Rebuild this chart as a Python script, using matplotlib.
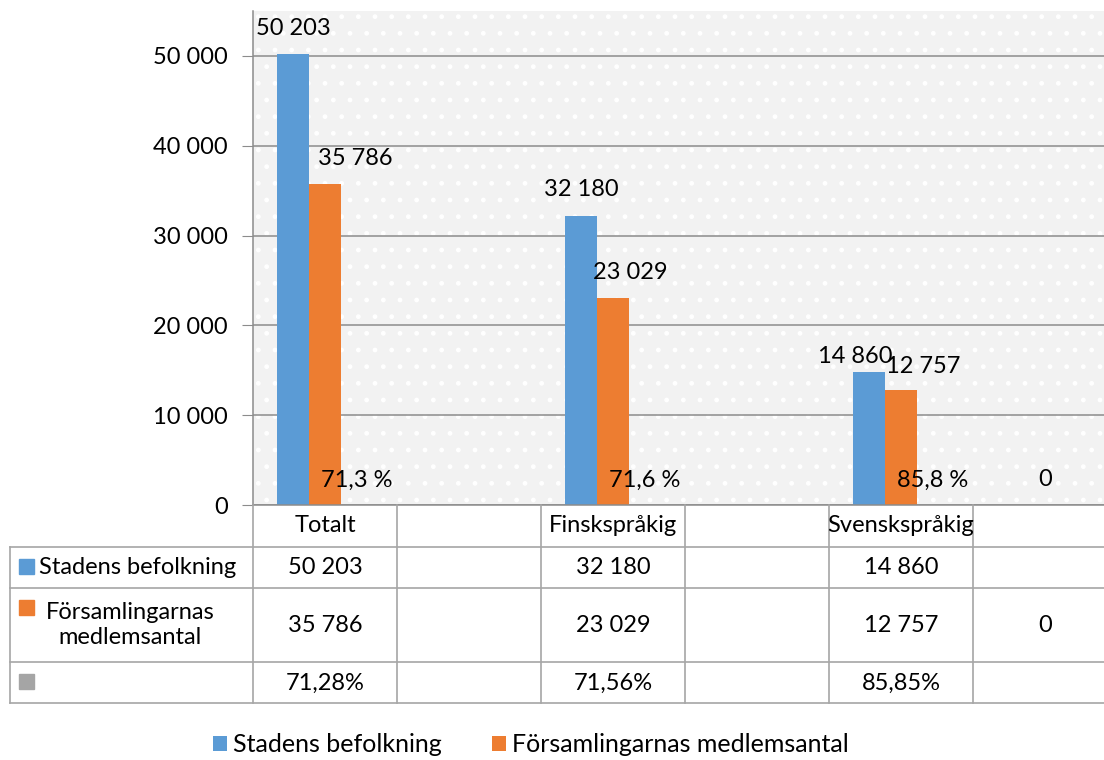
import numpy as np
import matplotlib.pyplot as plt
import matplotlib.transforms as mtransforms
from matplotlib.patches import Rectangle
from matplotlib.ticker import FuncFormatter

plt.rcParams['font.family'] = ['Lato', 'DejaVu Sans']
plt.rcParams['hatch.color'] = 'white'

# data
categories = ['Totalt', '', 'Finskspråkig', '', 'Svenskspråkig', '']
stadens = [50203, np.nan, 32180, np.nan, 14860, np.nan]
forsamling = [35786, np.nan, 23029, np.nan, 12757, 0]
andel = [0.71283, np.nan, 0.71563, np.nan, 0.85848, np.nan]
row_names = ['Stadens befolkning', 'Församlingarnas\nmedlemsantal', '']
legend_names = ['Stadens befolkning', 'Församlingarnas medlemsantal']
yticks = [0, 10000, 20000, 30000, 40000, 50000]

colors = ['#5b9bd5', '#ed7d31', '#a5a5a5']
grid_c = '#8c8c8c'
table_c = '#a6a6a6'
fs = 17

# label shifts (pixels) like the hand-moved Excel labels
blue_dx = [0, 0, 0, 0, -14, 0]
blue_dy = [26, 0, 26, 0, 15, 0]
orange_dx = [30, 0, 17, 0, 22, 0]
orange_dy = [25, 0, 26, 0, 24, 25]


def fmt(v):
    return f'{v:,.0f}'.replace(',', ' ')


W, H = 1104, 760
fig = plt.figure(figsize=(W / 100, H / 100), dpi=100)
ax = fig.add_axes([253 / W, 1 - 505 / H, 864 / W, 494 / H])

x = np.arange(len(categories))
bw = 0.222
b1 = ax.bar(x - bw, stadens, bw, color=colors[0], zorder=2)
b2 = ax.bar(x, forsamling, bw, color=colors[1], zorder=2)
b3 = ax.bar(x + bw, andel, bw, color=colors[2], zorder=2)

ax.set_xlim(-0.5, len(categories) - 0.5)
ax.set_ylim(0, 55000)
ax.set_yticks(yticks)
ax.yaxis.set_major_formatter(FuncFormatter(lambda v, p: fmt(v)))
ax.set_xticks([])
ax.tick_params(axis='y', length=8, color=grid_c, labelsize=fs, pad=10)

ax.set_facecolor('#f2f2f2')
ax.add_patch(Rectangle((0, 0), 1, 1, transform=ax.transAxes, facecolor='none',
                       edgecolor='white', hatch='.', lw=0, zorder=-1))
ax.yaxis.grid(True, color=grid_c, lw=1.1)
ax.set_axisbelow(True)
for s in ['top', 'right']:
    ax.spines[s].set_visible(False)
for s in ['left', 'bottom']:
    ax.spines[s].set_color(grid_c)
    ax.spines[s].set_linewidth(1.1)

# data labels
for i in range(len(categories)):
    if not np.isnan(stadens[i]):
        ax.annotate(fmt(stadens[i]), (x[i] - bw, stadens[i]), xytext=(blue_dx[i], blue_dy[i]),
                    textcoords='offset pixels', ha='center', va='center', fontsize=fs)
    if not np.isnan(forsamling[i]):
        ax.annotate(fmt(forsamling[i]), (x[i], forsamling[i]), xytext=(orange_dx[i], orange_dy[i]),
                    textcoords='offset pixels', ha='center', va='center', fontsize=fs)
    if not np.isnan(andel[i]):
        ax.annotate(f'{andel[i] * 100:.1f} %'.replace('.', ','), (x[i] + bw, andel[i]), xytext=(0, 25),
                    textcoords='offset pixels', ha='center', va='center', fontsize=fs)

# data table below the plot
tab = fig.add_axes([0, 0, 1, 1], zorder=5)
tab.set_xlim(0, W)
tab.set_ylim(H, 0)
tab.axis('off')
blend = mtransforms.blended_transform_factory(ax.transData, tab.transData)

row_y = [547, 588, 662, 703]
for yy in row_y:
    tab.plot([10, W], [yy, yy], color=table_c, lw=1.2)
tab.plot([10, 10], [547, 703], color=table_c, lw=1.2)
for b in np.arange(len(categories) + 1) - 0.5:
    tab.plot([b, b], [505, 703], color=table_c, lw=1.2, transform=blend, clip_on=False)

for i, c in enumerate(categories):
    tab.text(x[i], 526, c, transform=blend, ha='center', va='center', fontsize=fs)
    if not np.isnan(stadens[i]):
        tab.text(x[i], 567, fmt(stadens[i]), transform=blend, ha='center', va='center', fontsize=fs)
    if not np.isnan(forsamling[i]):
        tab.text(x[i], 625, fmt(forsamling[i]), transform=blend, ha='center', va='center', fontsize=fs)
    if not np.isnan(andel[i]):
        tab.text(x[i], 683, f'{andel[i] * 100:.2f}%'.replace('.', ','), transform=blend,
                 ha='center', va='center', fontsize=fs)

for sq_y, col in zip([559, 600, 674], colors):
    tab.add_patch(Rectangle((19, sq_y), 15, 15, color=col))
tab.text(39, 567, row_names[0], ha='left', va='center', fontsize=fs)
tab.text(130, 625, row_names[1], ha='center', va='center', multialignment='center',
         fontsize=fs, linespacing=1.25)

fig.legend([b1, b2], legend_names, loc='center', bbox_to_anchor=(531 / W, 1 - 745 / H),
           ncol=2, frameon=False, fontsize=18, handlelength=0.55, handleheight=0.55,
           handletextpad=0.25, columnspacing=2.0, borderpad=0)

fig.savefig('out.png', dpi=100)
print('out.png saved')
